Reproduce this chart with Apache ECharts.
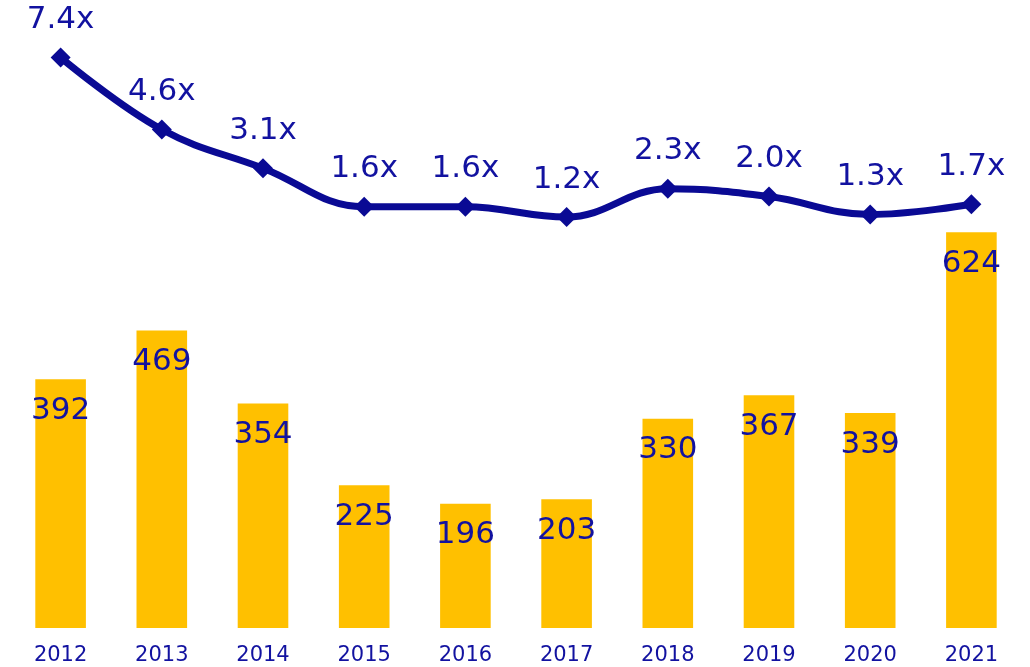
<!DOCTYPE html>
<html><head><meta charset="utf-8">
<script src="https://cdn.jsdelivr.net/npm/echarts@6/dist/echarts.min.js"></script>
<style>html,body{margin:0;padding:0;background:#fff}#c{width:1030px;height:667px}</style>
</head><body><div id="c"></div>
<script>
var years = ['2012','2013','2014','2015','2016','2017','2018','2019','2020','2021'];
var barValues = [392,469,354,225,196,203,330,367,339,624];
var multiples = [7.4,4.6,3.1,1.6,1.6,1.2,2.3,2.0,1.3,1.7];
var navy = '#0a0a94';
var textNavy = '#1212a0';
var font = 'DejaVu Sans';
var chart = echarts.init(document.getElementById('c'));
chart.setOption({
  backgroundColor:'#fff',
  animation:false,
  grid:[
    {left:10,right:8,top:184,bottom:39},
    {left:10,right:8,top:42,height:206}
  ],
  xAxis:[
    {type:'category',data:years,gridIndex:0,axisLine:{show:false},axisTick:{show:false},
     axisLabel:{color:textNavy,fontFamily:font,fontSize:21,margin:17}},
    {type:'category',data:years,gridIndex:1,show:false}
  ],
  yAxis:[
    {type:'value',gridIndex:0,min:0,max:700,show:false,splitLine:{show:false}},
    {type:'value',gridIndex:1,min:0,max:8,show:false,splitLine:{show:false}}
  ],
  series:[
    {type:'bar',data:barValues,xAxisIndex:0,yAxisIndex:0,barWidth:'50%',
     itemStyle:{color:'#FFC000'},
     label:{show:true,position:'insideTop',distance:16,color:textNavy,fontFamily:font,fontSize:31}},
    {type:'line',data:multiples,xAxisIndex:1,yAxisIndex:1,smooth:0.4,
     symbol:'diamond',symbolSize:20,
     lineStyle:{color:navy,width:7},itemStyle:{color:navy},
     label:{show:true,position:'top',distance:12,color:textNavy,fontFamily:font,fontSize:31,
       formatter:function(p){return p.value.toFixed(1)+'x';}}}
  ]
});
</script></body></html>
